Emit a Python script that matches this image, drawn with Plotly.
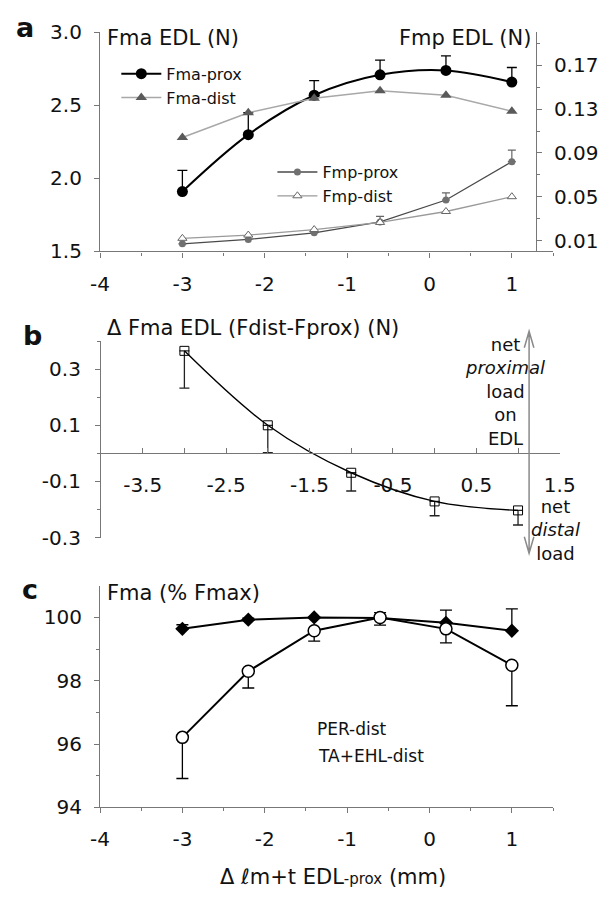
import plotly.graph_objects as go

# ---------------- data ----------------
x_a = [-3, -2.2, -1.4, -0.6, 0.2, 1.0]
fma_prox = [1.91, 2.30, 2.57, 2.71, 2.74, 2.66]
fma_prox_err = [0.145, 0.15, 0.10, 0.10, 0.10, 0.10]
fma_dist = [2.28, 2.45, 2.55, 2.60, 2.57, 2.46]
fmp_prox = [0.007, 0.011, 0.017, 0.027, 0.047, 0.082]
fmp_prox_err = [0, 0, 0, 0.005, 0.0065, 0.0105]
fmp_dist = [0.012, 0.015, 0.020, 0.0265, 0.0365, 0.050]

x_b = [-3, -2, -1, 0, 1]
d_fma = [0.365, 0.10, -0.069, -0.171, -0.203]
d_fma_err = [0.133, 0.097, 0.065, 0.051, 0.052]

x_c = [-3, -2.2, -1.4, -0.6, 0.2, 1.0]
per_dist = [99.64, 99.93, 100.0, 99.98, 99.83, 99.58]
per_dist_err = [0.13, 0.05, 0.0, 0.17, 0.40, 0.69]
ta_dist = [96.21, 98.30, 99.58, 100.0, 99.64, 98.49]
ta_dist_err = [1.30, 0.53, 0.33, 0.24, 0.44, 1.28]

x_ticks = [-4, -3, -2, -1, 0, 1]
x_ticklabels = ["-4", "-3", "-2", "-1", "0", "1"]
x_ticks_b = [-3.5, -2.5, -1.5, -0.5, 0.5, 1.5]
x_ticklabels_b = ["-3.5", "-2.5", "-1.5", "-0.5", "0.5", "1.5"]
ya_ticks = [1.5, 2.0, 2.5, 3.0]
ya_ticklabels = ["1.5", "2.0", "2.5", "3.0"]
ya2_ticks = [0.01, 0.05, 0.09, 0.13, 0.17]
ya2_ticklabels = ["0.01", "0.05", "0.09", "0.13", "0.17"]
yb_ticks = [-0.3, -0.1, 0.1, 0.3]
yb_ticklabels = ["-0.3", "-0.1", "0.1", "0.3"]
yc_ticks = [94, 96, 98, 100]

W, H = 615, 903
FONT = "DejaVu Sans"
def X(px): return px / W
def Y(py): return 1 - py / H

AX = "#777777"
TXT = "#111111"
TICKF = dict(family=FONT, size=20, color=TXT)

fig = go.Figure()

# ---- panel a ----
fig.add_trace(go.Scatter(x=x_a, y=fma_prox, name="Fma-prox", mode="lines+markers",
    line=dict(color="black", width=2, shape="spline"),
    marker=dict(symbol="circle", size=11, color="black"),
    error_y=dict(type="data", symmetric=False, array=fma_prox_err, arrayminus=[0]*6,
                 color="black", thickness=1.3, width=5),
    xaxis="x", yaxis="y", legend="legend"))
fig.add_trace(go.Scatter(x=x_a, y=fma_dist, name="Fma-dist", mode="lines+markers",
    line=dict(color="#a8a8a8", width=1.5),
    marker=dict(symbol="triangle-up", size=10, color="#5a5a5a"),
    xaxis="x", yaxis="y", legend="legend"))
fig.add_trace(go.Scatter(x=x_a, y=fmp_prox, name="Fmp-prox", mode="lines+markers",
    line=dict(color="#4a4a4a", width=1.3),
    marker=dict(symbol="circle", size=7, color="#707070"),
    error_y=dict(type="data", symmetric=False, array=fmp_prox_err, arrayminus=[0]*6,
                 color="#666666", thickness=1.2, width=4),
    xaxis="x", yaxis="y2", legend="legend2"))
fig.add_trace(go.Scatter(x=x_a, y=fmp_dist, name="Fmp-dist", mode="lines+markers",
    line=dict(color="#9a9a9a", width=1.3),
    marker=dict(symbol="triangle-up", size=8, color="white", line=dict(color="#666666", width=1)),
    xaxis="x", yaxis="y2", legend="legend2"))

# ---- panel b ----
fig.add_trace(go.Scatter(x=x_b, y=d_fma, mode="lines+markers", showlegend=False,
    line=dict(color="black", width=1.4, shape="spline"),
    marker=dict(symbol="square-open", size=9, color="black", line=dict(width=1)),
    error_y=dict(type="data", symmetric=False, array=[0]*5, arrayminus=d_fma_err,
                 color="#222222", thickness=1.3, width=5),
    xaxis="x2", yaxis="y3"))

# ---- panel c ----
fig.add_trace(go.Scatter(x=x_c, y=per_dist, name="PER-dist", mode="lines+markers", showlegend=False,
    line=dict(color="black", width=2),
    marker=dict(symbol="diamond", size=11, color="black"),
    error_y=dict(type="data", symmetric=False, array=per_dist_err, arrayminus=[0]*6,
                 color="black", thickness=1.3, width=6),
    xaxis="x3", yaxis="y4"))
fig.add_trace(go.Scatter(x=x_c, y=ta_dist, name="TA+EHL-dist", mode="lines+markers", showlegend=False,
    line=dict(color="black", width=2),
    marker=dict(symbol="circle", size=12, color="white", line=dict(color="black", width=1.5)),
    error_y=dict(type="data", symmetric=False, array=[0]*6, arrayminus=ta_dist_err,
                 color="black", thickness=1.3, width=6),
    xaxis="x3", yaxis="y4"))

common = dict(showline=True, linecolor=AX, linewidth=1.2, showgrid=False, zeroline=False,
              tickcolor=AX, tickfont=TICKF)

xa_dom = [X(94), X(567)]
fig.update_layout(
    width=W, height=H, margin=dict(l=0, r=0, t=0, b=0),
    paper_bgcolor="white", plot_bgcolor="rgba(0,0,0,0)",
    font=dict(family=FONT, color=TXT),
    xaxis=dict(domain=xa_dom, anchor="y", range=[-4, 1.5], tickvals=x_ticks, ticktext=x_ticklabels,
               ticks="outside", ticklen=5, ticklabelstandoff=9,
               minor=dict(dtick=0.5, ticks="outside", ticklen=3, tickcolor=AX), **common),
    yaxis=dict(domain=[Y(246), Y(21)], anchor="x", range=[1.5, 3.0], tickvals=ya_ticks,
               ticktext=ya_ticklabels, ticks="outside", ticklen=5, ticklabelstandoff=8, **common),
    yaxis2=dict(domain=[Y(246), Y(21)], overlaying="y", side="right", anchor="free",
                position=X(549), range=[0, 0.2], tickvals=ya2_ticks, ticktext=ya2_ticklabels,
                ticks="outside", ticklen=5, ticklabelstandoff=8,
                minor=dict(tickvals=[0.03, 0.07, 0.11, 0.15, 0.19], ticks="outside", ticklen=3, tickcolor=AX),
                **common),
    xaxis2=dict(domain=[X(95), X(574)], anchor="free", position=Y(453.5), range=[-4, 1.5],
                tickvals=x_ticks_b, ticktext=x_ticklabels_b,
                ticks="inside", ticklen=5, ticklabelstandoff=13,
                minor=dict(tickvals=[-3, -2, -1, 0, 1], ticks="inside", ticklen=5, tickcolor=AX),
                **common),
    yaxis3=dict(domain=[Y(540), Y(338)], anchor="x2", range=[-0.3, 0.4], tickvals=yb_ticks,
                ticktext=yb_ticklabels,
                ticks="outside", ticklen=5, ticklabelstandoff=10,
                minor=dict(tickvals=[-0.2, 0.0, 0.2, 0.4], ticks="outside", ticklen=3, tickcolor=AX),
                **common),
    xaxis3=dict(domain=xa_dom, anchor="y4", range=[-4, 1.5], tickvals=x_ticks, ticktext=x_ticklabels,
                ticks="outside", ticklen=5, ticklabelstandoff=9,
                minor=dict(dtick=0.5, ticks="outside", ticklen=3, tickcolor=AX), **common),
    yaxis4=dict(domain=[Y(817), Y(589.5)], anchor="x3", range=[94, 101], tickvals=yc_ticks,
                ticks="outside", ticklen=5, ticklabelstandoff=8,
                minor=dict(tickvals=[95, 97, 99], ticks="outside", ticklen=3, tickcolor=AX), **common),
    legend=dict(x=X(111), y=Y(46), xanchor="left", yanchor="top", bgcolor="rgba(0,0,0,0)",
                font=dict(family=FONT, size=16, color=TXT), tracegroupgap=0, itemwidth=40),
    legend2=dict(x=X(274), y=Y(147), xanchor="left", yanchor="top", bgcolor="rgba(0,0,0,0)",
                 font=dict(family=FONT, size=16, color=TXT), tracegroupgap=0, itemwidth=40),
)

def ann(text, x, y, size=21, xanchor="left", **kw):
    fig.add_annotation(text=text, x=X(x), y=Y(y), xref="paper", yref="paper",
                       xanchor=xanchor, yanchor="middle", showarrow=False,
                       font=dict(family=FONT, size=size, color=TXT), **kw)

# panel labels
ann("<b>a</b>", 16, 16, size=27, xanchor="center")
ann("<b>b</b>", 23, 332, size=27, xanchor="center")
ann("<b>c</b>", 21, 593, size=27, xanchor="center")
# axis titles
ann("Fma EDL (N)", 99, 27)
ann("Fmp EDL (N)", 546, 27, xanchor="right")
ann("Δ Fma EDL (Fdist-Fprox) (N)", 99, 325)
ann("Fma (% Fmax)", 99, 597)
ann("Δ <i>ℓ</i>m+t EDL<span style='font-size:15px'>-prox</span> (mm)", 337, 889, size=21, xanchor="center")
# panel b side notes
ann("net<br><i>proximal</i><br>load<br>on<br>EDL", 517, 390, size=18, xanchor="center", align="center")
ann("net<br><i>distal</i><br>load", 570, 532, size=18, xanchor="center", align="center")
# panel c labels
ann("PER-dist", 318, 737, size=17)
ann("TA+EHL-dist", 320, 764, size=17)

# double-headed arrow in panel b
ax_x, top, bot = 542, 328, 556
path = (f"M {X(ax_x)},{Y(bot)} L {X(ax_x)},{Y(top)} "
        f"M {X(ax_x-5)},{Y(top+17)} L {X(ax_x)},{Y(top)} L {X(ax_x+5)},{Y(top+17)} "
        f"M {X(ax_x-5)},{Y(bot-17)} L {X(ax_x)},{Y(bot)} L {X(ax_x+5)},{Y(bot-17)}")
fig.add_shape(type="path", path=path, xref="paper", yref="paper",
              line=dict(color="#8a8a8a", width=1.5))

fig.write_html("out.html", config={"displayModeBar": False},
               post_script="document.body.style.margin='0';document.body.style.overflow='hidden';")
